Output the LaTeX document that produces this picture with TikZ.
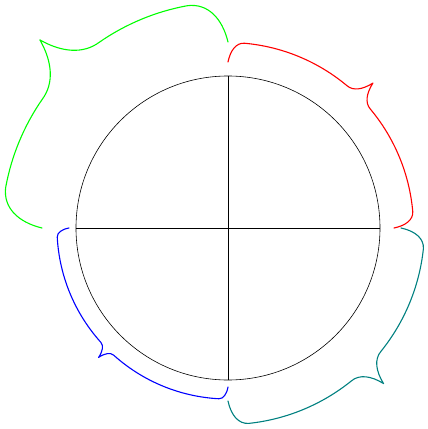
\documentclass[tikz,border=0pt]{standalone}
\usepackage{xcolor}
\newcommand\polarbrace[5]{% #1 colour, #2 start angle, #3 base radius, #4 amplitude, #5 corner angle
  \pgfmathsetmacro\pbR{#3}%
  \pgfmathsetmacro\pbRa{#3+0.3*#4}%
  \pgfmathsetmacro\pbRm{#3+0.5*#4}%
  \pgfmathsetmacro\pbRb{#3+0.7*#4}%
  \pgfmathsetmacro\pbRt{#3+#4}%
  \pgfmathsetmacro\pbS{#2}%
  \pgfmathsetmacro\pbSa{#2-0.15*#5}%
  \pgfmathsetmacro\pbSb{#2-0.5*#5}%
  \pgfmathsetmacro\pbSc{#2-#5}%
  \pgfmathsetmacro\pbM{#2-45}%
  \pgfmathsetmacro\pbMa{#2-45+0.5*#5}%
  \pgfmathsetmacro\pbMb{#2-45+0.15*#5}%
  \pgfmathsetmacro\pbMc{#2-45+#5}%
  \pgfmathsetmacro\pbMd{#2-45-0.15*#5}%
  \pgfmathsetmacro\pbMe{#2-45-0.5*#5}%
  \pgfmathsetmacro\pbMf{#2-45-#5}%
  \pgfmathsetmacro\pbE{#2-90}%
  \pgfmathsetmacro\pbEa{#2-90+0.5*#5}%
  \pgfmathsetmacro\pbEb{#2-90+0.15*#5}%
  \pgfmathsetmacro\pbEc{#2-90+#5}%
  \draw[bracestyle,#1] (\pbS:\pbR pt)
    .. controls (\pbSa:\pbRa pt) and (\pbSb:\pbRm pt) .. (\pbSc:\pbRm pt)
    arc[start angle=\pbSc, end angle=\pbMc, radius=\pbRm pt]
    .. controls (\pbMa:\pbRm pt) and (\pbMb:\pbRb pt) .. (\pbM:\pbRt pt)
    .. controls (\pbMd:\pbRb pt) and (\pbMe:\pbRm pt) .. (\pbMf:\pbRm pt)
    arc[start angle=\pbMf, end angle=\pbEc, radius=\pbRm pt]
    .. controls (\pbEa:\pbRm pt) and (\pbEb:\pbRa pt) .. (\pbE:\pbR pt);
}
\begin{document}
\begin{tikzpicture}[x=1pt,y=1pt,
  thinline/.style={line width=0.6pt,black},
  bracestyle/.style={line width=1.1pt,line join=round,line cap=round}]
\useasboundingbox (-228,-201) rectangle (200,228);
\coordinate (O) at (0,0);
\draw[thinline] (O) circle[radius=152pt];
\draw[thinline] (-152pt,0) -- (152pt,0);
\draw[thinline] (0,-152pt) -- (0,152pt);
\polarbrace{red}{90}{166}{39}{5.1}
\polarbrace{teal}{0}{173}{47}{6.1}
\polarbrace{blue}{-90}{159}{24}{3.1}
\polarbrace{green}{180}{186}{80}{10.4}
\end{tikzpicture}
\end{document}
